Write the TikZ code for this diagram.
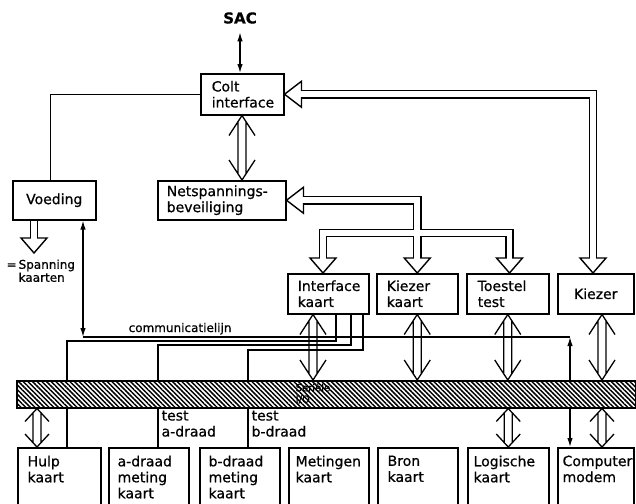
\documentclass[tikz,border=0pt]{standalone}
\usepackage{fontspec}
\setmainfont{DejaVu Sans}[FakeBold=0.7]
\usetikzlibrary{arrows.meta,patterns.meta,calc}
\newcommand\dchev[4]{%
  \draw[line width=1.3pt, line join=miter, line cap=butt] let \p1=#1, \p2=#2 in
    (\x1-#4pt,\y1-#3pt) -- (\x1,\y1) -- (\x1+#4pt,\y1-#3pt)
    (\x1-#4pt,\y2+#3pt) -- (\x1,\y2) -- (\x1+#4pt,\y2+#3pt)
    (\x1-4pt,\y1-4pt*#3/#4) -- (\x1-4pt,\y2+4pt*#3/#4)
    (\x1+4pt,\y1-4pt*#3/#4) -- (\x1+4pt,\y2+4pt*#3/#4);}
\newcommand\dhead[1]{\filldraw[fill=white, line width=1.4pt, line join=miter] #1 -- ++(-13,-15) -- ++(26,0) -- cycle;}
\newcommand\lhead[1]{\filldraw[fill=white, line width=1.4pt, line join=miter] #1 -- ++(17,-13) -- ++(0,26) -- cycle;}
\begin{document}
\begin{tikzpicture}[x=1pt,y=-1pt,line width=1.3pt,
  every node/.style={font=\fontsize{14}{16}\selectfont},
  ubox/.style={draw,line width=1.5pt,anchor=north west,minimum height=40pt,inner ysep=0pt,align=left},
  cbox/.style={draw,line width=1.5pt,anchor=north west,minimum height=40pt,align=center},
  lbox/.style={draw,line width=1.5pt,anchor=north west,minimum height=80pt,inner sep=0pt},
  ltext/.style={anchor=north west,align=left,inner sep=0pt},
  biarrow/.style={arrows={Latex[length=9pt,width=5.5pt]-Latex[length=9pt,width=5.5pt]}},
  pipeout/.style={line width=8.6pt,line join=miter},
  pipein/.style={line width=5.8pt,white,line join=miter}]
\useasboundingbox (0,0) rectangle (636,503);
\clip (0,0) rectangle (636,503);

% upper boxes
\node[inner sep=0pt,font=\bfseries\fontsize{15}{17}\selectfont] (sac) at (240,18) {SAC};
\node[ubox,inner xsep=11pt,text width=61pt,minimum height=41pt] (colt) at (200,73) {Colt\\interface};
\node[cbox,minimum width=83pt,minimum height=39pt] (voeding) at (12,180) {Voeding};
\node[ubox,inner xsep=9pt,text width=110pt,minimum height=39pt] (net) at (157,180) {Netspannings-\\beveiliging};
\node[ubox,inner xsep=10pt,text width=61pt] (ik) at (287,273) {Interface\\kaart};
\node[ubox,inner xsep=10pt,text width=61pt] (kk) at (376,273) {Kiezer\\kaart};
\node[ubox,inner xsep=11pt,text width=60pt] (ts) at (466,273) {Toestel\\test};
\node[cbox,minimum width=76pt] (kz) at (557,273) {Kiezer};

% lower boxes
\node[lbox,minimum width=83pt] (hulp) at (17,447) {};
\node[lbox,minimum width=80pt] (ad) at (108,447) {};
\node[lbox,minimum width=80pt] (bd) at (199,447) {};
\node[lbox,minimum width=80pt] (met) at (288,447) {};
\node[lbox,minimum width=80pt] (bron) at (377,447) {};
\node[lbox,minimum width=81pt] (log) at (467,447) {};
\node[lbox,minimum width=76pt] (cm) at (557,447) {};
\node[ltext] (hulpt) at ([xshift=10pt,yshift=-8pt]hulp.north west) {Hulp\\kaart};
\node[ltext] (adt) at ([xshift=9pt,yshift=-8pt]ad.north west) {a-draad\\meting\\kaart};
\node[ltext] (bdt) at ([xshift=9pt,yshift=-8pt]bd.north west) {b-draad\\meting\\kaart};
\node[ltext] (mett) at ([xshift=7pt,yshift=-8pt]met.north west) {Metingen\\kaart};
\node[ltext] (biront) at ([xshift=10pt,yshift=-8pt]bron.north west) {Bron\\kaart};
\node[ltext] (logt) at ([xshift=6pt,yshift=-8pt]log.north west) {Logische\\kaart};
\node[ltext] (cmt) at ([xshift=5pt,yshift=-8pt]cm.north west) {Computer\\modem};

% labels
\node[ltext] (ta) at (161,410) {test\\a-draad};
\node[ltext] (tb) at (251,410) {test\\b-draad};
\node[ltext,font=\fontsize{12}{13}\selectfont] (span) at (18,259) {\llap{=\,}Spanning\\kaarten};
\node[anchor=base west,inner sep=0pt,font=\fontsize{12}{14}\selectfont] (comm) at (128,332) {communicatielijn};

% helper coordinates
\coordinate (x242) at (242,0);
\coordinate (x313) at (313,0);
\coordinate (x602) at (602,0);
\coordinate (x37) at (37,0);
\coordinate (c83) at (83,337);
\coordinate (c570) at (570,337);
\coordinate (h1) at (67,341); \coordinate (h2) at (336,341);
\coordinate (a1) at (158,345); \coordinate (a2) at (351,345);
\coordinate (b1) at (248,350); \coordinate (b2) at (363,350);
\coordinate (kx) at (593,0);
\coordinate (ikx) at (323,0);
\coordinate (tsx) at (509.5,0);
\coordinate (vx) at (34,0);
\coordinate (vtip) at (34,253);

% thin connectors
\draw (colt.west) -| ([xshift=-3.5pt]voeding.north);
\draw[biarrow] ([yshift=-8pt]sac.south) -- (colt.north -| sac.south);
\draw[biarrow] (voeding.south -| c83) -- (c83);
\draw (c83) -- (c570);
\draw[biarrow] (c570) -- (cm.north -| c570);
\draw (hulp.north -| h1) |- (h2) -- (ik.south -| h2);
\draw (ad.north -| a1) |- (a2) -- (ik.south -| a2);
\draw (bd.north -| b1) |- (b2) -- (ik.south -| b2);

% bus
\node[draw,line width=1.5pt,preaction={fill=white},
  pattern={Lines[angle=-45,distance=3.3pt,line width=1.5pt]},
  anchor=north west,minimum width=619pt,minimum height=27pt,inner sep=0pt] (bus) at (16,380) {};
\node[ltext,font=\fontsize{10}{11.5}\selectfont] (buslab) at (295,383) {Seriële\\I/O};

% double chevron arrows
\dchev{(colt.south -| x242)}{(net.north -| x242)}{20}{13}
\dchev{(ik.south -| x313)}{(bus.north -| x313)}{20}{13}
\dchev{(kk.south)}{(bus.north -| kk.south)}{20}{13}
\dchev{(ts.south)}{(bus.north -| ts.south)}{20}{13}
\dchev{(kz.south -| x602)}{(bus.north -| x602)}{20}{13}
\dchev{(bus.south -| x37)}{(hulp.north -| x37)}{13}{12}
\dchev{(bus.south -| log.north)}{(log.north)}{13}{12}
\dchev{(bus.south -| x602)}{(cm.north -| x602)}{13}{12}

% hollow block arrows
\lhead{(colt.east)}
\lhead{(net.east)}
\dhead{(kz.north -| kx)}
\dhead{(ik.north -| ikx)}
\dhead{(kk.north)}
\dhead{(ts.north -| tsx)}
\dhead{(vtip)}
\draw[pipeout] ($(colt.east)+(17,0)$) -| ($(kz.north -| kx)+(0,-15)$);
\draw[pipeout] ($(net.east)+(17,0)$) -| ($(kk.north)+(0,-15)$);
\draw[pipeout] ($(ik.north -| ikx)+(0,-15)$) |- ($(kk.north)+(0,-40)$) -| ($(ts.north -| tsx)+(0,-15)$);
\draw[pipeout] ($(voeding.south -| vx)+(0,0.75)$) -- ($(vtip)+(0,-15)$);
\draw[pipein] ($(colt.east)+(15.5,0)$) -| ($(kz.north -| kx)+(0,-13.5)$);
\draw[pipein] ($(net.east)+(15.5,0)$) -| ($(kk.north)+(0,-13.5)$);
\draw[pipein] ($(ik.north -| ikx)+(0,-13.5)$) |- ($(kk.north)+(0,-40)$) -| ($(ts.north -| tsx)+(0,-13.5)$);
\draw[pipein] ($(voeding.south -| vx)+(0,0.75)$) -- ($(vtip)+(0,-13.5)$);
\end{tikzpicture}
\end{document}
